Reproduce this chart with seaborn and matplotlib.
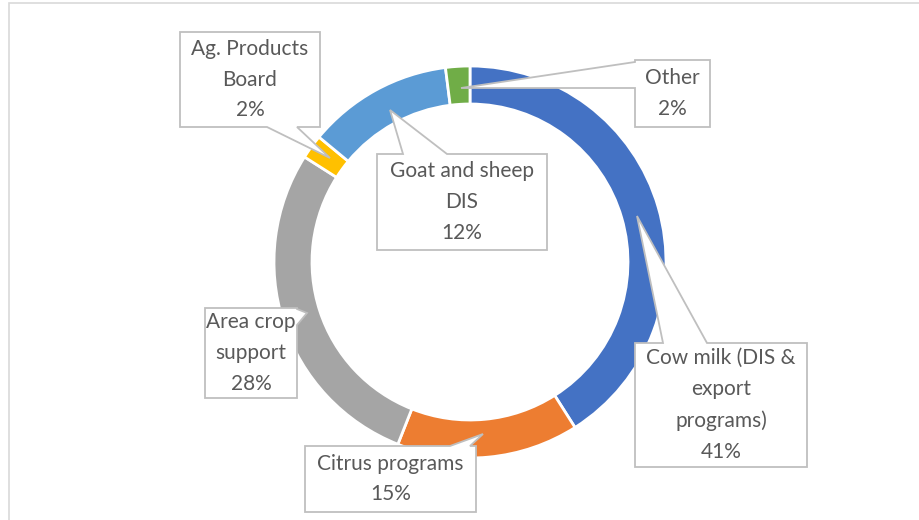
import matplotlib
matplotlib.use("Agg")
import matplotlib.pyplot as plt
from matplotlib.patches import Polygon, Rectangle
import seaborn as sns

labels = ["Cow milk (DIS &\nexport\nprograms)", "Citrus programs", "Area crop\nsupport",
          "Ag. Products\nBoard", "Goat and sheep\nDIS", "Other"]
shares = [41, 15, 28, 2, 12, 2]
colors = ["#4472C4", "#ED7D31", "#A5A5A5", "#FFC000", "#5B9BD5", "#70AD47"]

W, H = 920, 520

# callout layout in pixel coords (y down): box, edge with pointer, pointer base, pointer tip
callouts = [
    ((635, 343, 807, 467), "top", (663, 707), (637, 216)),
    ((305, 446, 476, 512), "top", (450, 470), (483, 434)),
    ((205, 308, 297, 398), "right", (309, 325), (307, 313)),
    ((180, 32, 320, 127), "bottom", (267, 297), (330, 158)),
    ((377, 154, 547, 250), "top", (403, 447), (390, 110)),
    ((635, 60, 710, 127), "left", (62, 88), (461, 88)),
]


def callout_shape(box, edge, base, tip):
    x0, y0, x1, y1 = box
    a, b = base
    pts = [(x0, y0)]
    if edge == "top":
        pts += [(a, y0), tip, (b, y0)]
    pts.append((x1, y0))
    if edge == "right":
        pts += [(x1, a), tip, (x1, b)]
    pts.append((x1, y1))
    if edge == "bottom":
        pts += [(b, y1), tip, (a, y1)]
    pts.append((x0, y1))
    if edge == "left":
        pts += [(x0, b), tip, (x0, a)]
    return [(x, H - y) for x, y in pts]


sns.set_theme(style="white")
plt.rcParams['font.family'] = ['Lato', 'DejaVu Sans']

fig = plt.figure(figsize=(W / 100, H / 100), dpi=100)
ax = fig.add_axes([0, 0, 1, 1])

ax.pie(shares, colors=colors, startangle=90, counterclock=False,
       center=(470, H - 262), radius=196,
       wedgeprops=dict(width=38, edgecolor="white", linewidth=2))

ax.set_xlim(0, W)
ax.set_ylim(0, H)
ax.set_aspect("equal")
ax.axis("off")

# chart area frame
ax.add_patch(Rectangle((9, -10), W + 20, H - 3 + 10, fill=False, edgecolor="#D9D9D9", lw=1.2))

for (box, edge, base, tip), lab, val in zip(callouts, labels, shares):
    ax.add_patch(Polygon(callout_shape(box, edge, base, tip), closed=True,
                         facecolor="white", edgecolor="#BFBFBF", lw=1.3, zorder=5))
    cx = (box[0] + box[2]) / 2
    cy = H - (box[1] + box[3]) / 2
    ax.text(cx, cy, f"{lab}\n{val}%", ha="center", va="center", fontsize=15,
            color="#595959", linespacing=1.68, zorder=6)

fig.savefig("out.png", dpi=100)
